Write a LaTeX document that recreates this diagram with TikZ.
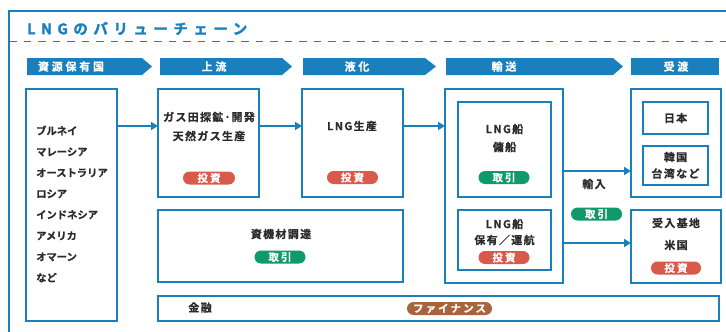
\documentclass[tikz,border=0pt]{standalone}
\usepackage{fontspec}
\setmainfont{Noto Sans CJK JP Bold}[FakeBold=0.6]
\newfontfamily\jptitle{Noto Sans CJK JP Bold}[LetterSpace=38,FakeBold=1.8]
\newfontfamily\jphead{Noto Sans CJK JP Bold}[LetterSpace=25,FakeBold=0.5]
\newfontfamily\jpbox{Noto Sans CJK JP Bold}[LetterSpace=12,FakeBold=0.6]
\newfontfamily\jppill{Noto Sans CJK JP Bold}[LetterSpace=20,FakeBold=0.5]
\usetikzlibrary{arrows.meta}
\definecolor{vblue}{HTML}{1A7FBD}
\definecolor{vred}{HTML}{D95A4A}
\definecolor{vgreen}{HTML}{0F9A6A}
\definecolor{vbrown}{HTML}{A8643C}
\definecolor{vtext}{HTML}{2B2B2B}
\tikzset{
  x=1pt,y=-1pt,
  box/.style={draw=vblue,line width=1.4pt,inner sep=0pt,outer sep=0pt},
  hdr/.style={fill=vblue,draw=none},
  hdrtext/.style={text=white,font=\jphead\fontsize{11}{13}\selectfont,inner sep=0pt},
  txt/.style={text=vtext,font=\jpbox\fontsize{11}{17}\selectfont,inner sep=0pt,align=center},
  pill/.style={rounded corners=6.5pt,minimum height=13pt,inner sep=0pt,text=white,
    font=\jppill\fontsize{10.5}{12}\selectfont},
  invest/.style={pill,fill=vred,minimum width=52pt},
  trade/.style={pill,fill=vgreen,minimum width=51pt},
  arr/.style={draw=vblue,line width=2pt,-{Triangle[length=7pt,width=8pt]}},
}
\begin{document}
\begin{tikzpicture}
\useasboundingbox (0,0) rectangle (726,332);
% outer frame
\draw[vblue,line width=2pt] (9,333) -- (9,11) -- (727,11);
\node[anchor=west,text=vblue,inner sep=0pt,font=\jptitle\fontsize{14.5}{16}\selectfont] (title) at (27,28.5) {LNGのバリューチェーン};
\draw[vblue,line width=1.8pt,dash pattern=on 7.5pt off 7pt] (9,41.5) -- (727,41.5);
% headers
\fill[hdr] (27,58) -- (142,58) -- (152,66.5) -- (142,75) -- (27,75) -- cycle;
\fill[hdr] (160,58) -- (282,58) -- (292,66.5) -- (282,75) -- (160,75) -- cycle;
\fill[hdr] (303,58) -- (425,58) -- (436,66.5) -- (425,75) -- (303,75) -- cycle;
\fill[hdr] (446,58) -- (613,58) -- (623,66.5) -- (613,75) -- (446,75) -- cycle;
\fill[hdr] (631,58) rectangle (719,75);
\node[hdrtext] (h1) at (71,66.5) {資源保有国};
\node[hdrtext] (h2) at (214,66.5) {上流};
\node[hdrtext] (h3) at (357,66.5) {液化};
\node[hdrtext] (h4) at (504,66.5) {輸送};
\node[hdrtext] (h5) at (676,66.5) {受渡};
% boxes
\node[box,minimum width=91pt,minimum height=232pt] (src) at (71.5,205) {};
\node[box,minimum width=101pt,minimum height=108pt] (up) at (208.5,143) {};
\node[box,minimum width=101pt,minimum height=108pt] (lng) at (352.5,143) {};
\node[box,minimum width=245pt,minimum height=72pt] (mat) at (280.5,246) {};
\node[box,minimum width=561pt,minimum height=25pt] (fin) at (438.5,308.5) {};
\node[box,minimum width=118pt,minimum height=194pt] (trans) at (504,186) {};
\node[box,minimum width=93pt,minimum height=95pt] (ship1) at (504.5,149.5) {};
\node[box,minimum width=93pt,minimum height=60pt] (ship2) at (504.5,240) {};
\node[box,minimum width=90pt,minimum height=108pt] (recv1) at (676,143) {};
\node[box,minimum width=65pt,minimum height=32pt] (jp) at (675.5,118) {};
\node[box,minimum width=65pt,minimum height=39pt] (kr) at (675.5,165.5) {};
\node[box,minimum width=90pt,minimum height=73pt] (recv2) at (676,246.5) {};
% arrows
\draw[arr] (src.east |- 0,126) -- (up.west |- 0,126);
\draw[arr] (up.east |- 0,126) -- (lng.west |- 0,126);
\draw[arr] (lng.east |- 0,126) -- (trans.west |- 0,126);
\draw[arr] (trans.east |- 0,171) -- (recv1.west |- 0,171);
\draw[arr] (trans.east |- 0,243) -- (recv2.west |- 0,243);
% texts
\node[anchor=west,text=vtext,inner sep=0pt,align=left,font=\fontsize{10.3}{21}\selectfont] (list) at (36,204)
  {ブルネイ\\マレーシア\\オーストラリア\\ロシア\\インドネシア\\アメリカ\\オマーン\\など};
\node[txt] (upt1) at (209,117) {ガス田探鉱･開発};
\node[txt] (upt2) at (209,136) {天然ガス生産};
\node[invest] (upp) at (209,178) {投資};
\node[txt] (lngt) at (352,126) {LNG生産};
\node[invest,minimum width=51pt] (lngp) at (352.5,177.5) {投資};
\node[txt] (matt) at (281,234) {資機材調達};
\node[trade] (matp) at (280,257) {取引};
\node[txt] (fint) at (200,307.5) {金融};
\node[pill,fill=vbrown,minimum width=85pt] (finp) at (449.5,308.5) {ファイナンス};
\node[txt] (s1a) at (504.5,129) {LNG船};
\node[txt] (s1b) at (504.5,147) {傭船};
\node[trade] (s1p) at (504,177.5) {取引};
\node[txt] (s2a) at (504.5,224) {LNG船};
\node[txt] (s2b) at (504.5,240) {保有／運航};
\node[invest,minimum width=51pt] (s2p) at (504,257.5) {投資};
\node[txt] (imp) at (594,184) {輸入};
\node[trade] (impp) at (596.5,214) {取引};
\node[txt] (jpt) at (675.5,118) {日本};
\node[txt] (krt1) at (675.5,157) {韓国};
\node[txt] (krt2) at (675.5,173.5) {台湾など};
\node[txt] (r2a) at (676,223) {受入基地};
\node[txt] (r2b) at (676,245) {米国};
\node[invest,minimum width=50pt] (r2p) at (676,268) {投資};
\end{tikzpicture}
\end{document}
